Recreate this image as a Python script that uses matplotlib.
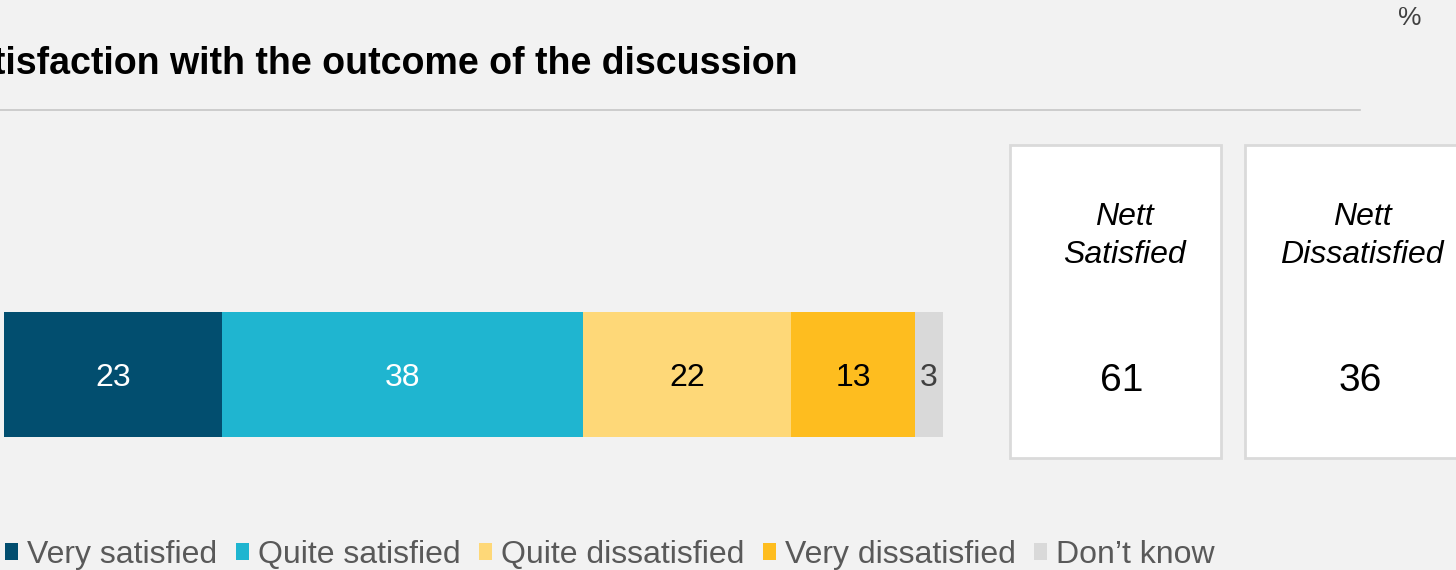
import matplotlib
matplotlib.use("Agg")
import matplotlib.pyplot as plt
from matplotlib.patches import Rectangle

plt.rcParams['font.family'] = ['Liberation Sans', 'DejaVu Sans']

categories = ["Very satisfied", "Quite satisfied", "Quite dissatisfied",
              "Very dissatisfied", "Don\u2019t know"]
values = [23, 38, 22, 13, 3]
colors = ["#024e6f", "#1fb5d0", "#fed878", "#febd1f", "#d9d9d9"]
label_colors = ["white", "white", "black", "black", "#404040"]

nett_labels = ["Nett\nSatisfied", "Nett\nDissatisfied"]
nett_values = [61, 36]

title = "Satisfaction with the outcome of the discussion"

W, H = 1456, 570
bg = "#f2f2f2"


def fx(px):
    return px / W


def fy(py):
    return 1 - py / H


fig = plt.figure(figsize=(W / 100, H / 100), dpi=100, facecolor=bg)

# title (runs off the left edge) and rule under it
fig.text(fx(798), fy(64), title, ha="right", va="center",
         fontsize=27.0, fontweight="bold", color="black")
fig.add_artist(plt.Line2D([0, fx(1360)], [fy(110), fy(110)],
                          color="#c6c6c6", lw=1.2))
fig.text(fx(1410), fy(18), "%", ha="center", va="center",
         fontsize=19, color="#404040")

# stacked bar
ax = fig.add_axes([fx(4), fy(437), fx(939), 125 / H])
ax.set_facecolor(bg)
left = 0
handles = []
for cat, v, c, lc in zip(categories, values, colors, label_colors):
    b = ax.barh(0, v, left=left, height=1, color=c, label=cat)
    handles.append(b)
    ax.text(left + v / 2, 0, str(v), ha="center", va="center_baseline",
            fontsize=23, color=lc)
    left += v
ax.set_xlim(0, sum(values))
ax.set_ylim(-0.5, 0.5)
ax.axis("off")

# nett boxes
boxes = [(1010, 1221), (1245, 1478)]
text_x = [1124, 1362]
for (x0, x1), tx, lab, nv in zip(boxes, text_x, nett_labels, nett_values):
    fig.add_artist(Rectangle((fx(x0), fy(458)), fx(x1 - x0), 313 / H,
                             transform=fig.transFigure, facecolor="white",
                             edgecolor="#dadada", lw=2))
    fig.text(fx(tx), fy(236), lab, ha="center", va="center",
             fontsize=23, style="italic", color="black", linespacing=1.38)
    fig.text(fx(tx - 2), fy(377), str(nv), ha="center", va="center_baseline",
             fontsize=28, color="black")

# legend
leg = fig.legend(handles=handles, loc="center left",
                 bbox_to_anchor=(fx(5), fy(555)), ncol=5, frameon=False,
                 fontsize=23, handlelength=0.41, handleheight=0.41,
                 handletextpad=0.28, columnspacing=0.58, borderpad=0,
                 borderaxespad=0)
for t in leg.get_texts():
    t.set_color("#595959")

fig.savefig("out.png", dpi=100, facecolor=bg)
